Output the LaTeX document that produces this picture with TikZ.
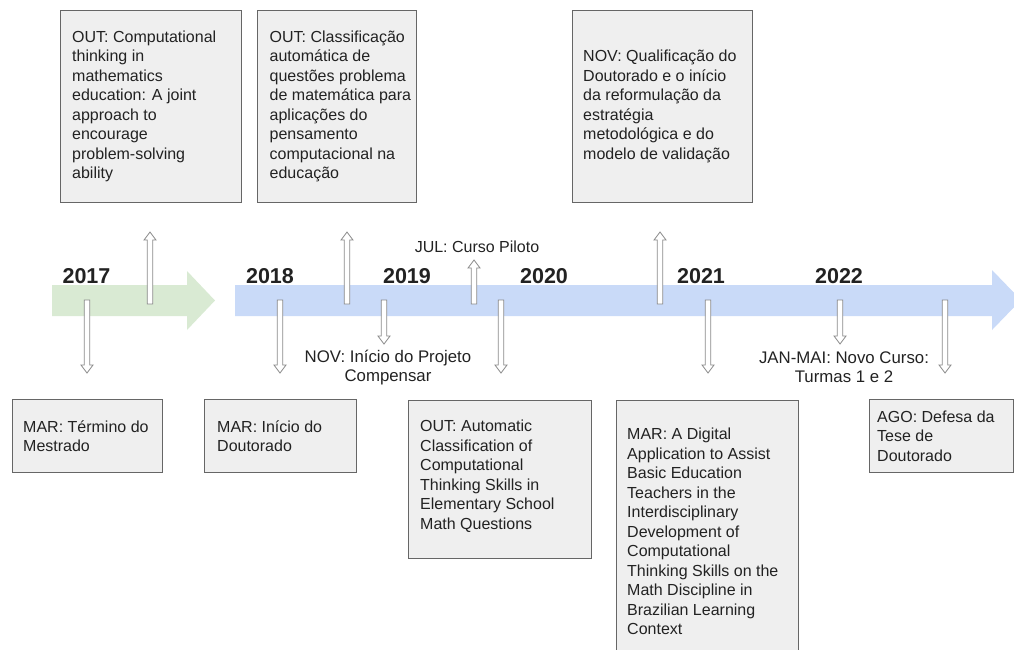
\documentclass[tikz,border=0pt]{standalone}
\usepackage{fontspec}
\setmainfont{Liberation Sans}
\definecolor{bandgreen}{HTML}{D9EAD3}
\definecolor{bandblue}{HTML}{C9DAF8}
\definecolor{boxfill}{HTML}{EFEFEF}
\definecolor{boxline}{HTML}{666666}
\definecolor{tickline}{HTML}{8A8A8A}
\definecolor{ink}{HTML}{222222}
\newcommand\evfont{\fontsize{16}{19.5}\selectfont}
\newcommand\lblfont{\fontsize{16.8}{19}\selectfont}
\newcommand\yrfont{\fontsize{21.5}{24}\selectfont\bfseries}
% hollow marker arrows: x, start y, tip y
\newcommand\markup[3]{%
  \draw[marker] (#1-2.75,#2) -- (#1-2.75,#3+8) -- (#1-6,#3+8) -- (#1,#3)
    -- (#1+6,#3+8) -- (#1+2.75,#3+8) -- (#1+2.75,#2) -- cycle;}
\newcommand\markdown[3]{%
  \draw[marker] (#1-2.75,#2) -- (#1-2.75,#3-8) -- (#1-6,#3-8) -- (#1,#3)
    -- (#1+6,#3-8) -- (#1+2.75,#3-8) -- (#1+2.75,#2) -- cycle;}
\begin{document}
\begin{tikzpicture}[x=1pt,y=-1pt,
  evbox/.style={draw=boxline, line width=0.9pt, fill=boxfill, anchor=north west,
    inner sep=0pt},
  evtext/.style={anchor=west, inner sep=0pt, align=left, font=\evfont, text=ink},
  lbl/.style={inner sep=0pt, align=center, font=\evfont, text=ink},
  year/.style={anchor=base, inner sep=0pt, font=\yrfont, text=ink},
  marker/.style={draw=tickline, line width=0.8pt, fill=white, line join=miter}]
\useasboundingbox (0,0) rectangle (1014,649);
\clip (0,0) rectangle (1014,649);

% timeline bands
\fill[bandgreen] (52,285) -- (187,285) -- (187,271) -- (215,300.5) -- (187,330)
  -- (187,316) -- (52,316) -- cycle;
\fill[bandblue] (235,285) -- (992,285) -- (992,270) -- (1021,300) -- (992,330)
  -- (992,316) -- (235,316) -- cycle;

% years
\node[year] (y2017) at (86.5,283) {2017};
\node[year] (y2018) at (270,283) {2018};
\node[year] (y2019) at (407,283) {2019};
\node[year] (y2020) at (544,283) {2020};
\node[year] (y2021) at (701,283) {2021};
\node[year] (y2022) at (839,283) {2022};

% markers above the band
\markup{150}{304}{232}
\markup{347}{304}{232}
\markup{474}{304}{260}
\markup{660}{304}{232}
% markers below the band
\markdown{87}{300}{373}
\markdown{280}{300}{373}
\markdown{384}{300}{344}
\markdown{501}{300}{373}
\markdown{708}{300}{373}
\markdown{840}{300}{344}
\markdown{945}{300}{373}

% short labels
\node[lbl, anchor=base] (jul) at (477,252) {JUL: Curso Piloto};
\node[lbl, font=\lblfont, anchor=north] (nov) at (388,350) {NOV: Início do Projeto\\Compensar};
\node[lbl, font=\lblfont, anchor=north] (jan) at (844,352) {JAN-MAI: Novo Curso:\\Turmas 1 e 2};

% boxes above
\node[evbox, minimum width=181pt, minimum height=192pt] (t1) at (60,10) {};
\node[evtext] at ([xshift=12pt]t1.west) {OUT: Computational\\thinking in\\mathematics\\education: A joint\\approach to\\encourage\\problem-solving\\ability};
\node[evbox, minimum width=159pt, minimum height=192pt] (t2) at (257,10) {};
\node[evtext] at ([xshift=12.5pt]t2.west) {OUT: Classificação\\automática de\\questões problema\\de matemática para\\aplicações do\\pensamento\\computacional na\\educação};
\node[evbox, minimum width=180pt, minimum height=192pt] (t3) at (572,10) {};
\node[evtext] at ([xshift=11pt]t3.west) {NOV: Qualificação do\\Doutorado e o início\\da reformulação da\\estratégia\\metodológica e do\\modelo de validação};

% boxes below
\node[evbox, minimum width=150pt, minimum height=73pt] (b1) at (12,399) {};
\node[evtext] at ([xshift=11pt]b1.west) {MAR: Término do\\Mestrado};
\node[evbox, minimum width=152pt, minimum height=73pt] (b2) at (204,399) {};
\node[evtext] at ([xshift=13pt]b2.west) {MAR: Início do\\Doutorado};
\node[evbox, minimum width=183pt, minimum height=158pt] (b3) at (408,400) {};
\node[evtext] at ([xshift=12pt,yshift=3pt]b3.west) {OUT: Automatic\\Classification of\\Computational\\Thinking Skills in\\Elementary School\\Math Questions};
\node[evbox, minimum width=182pt, minimum height=270pt] (b4) at (616,400) {};
\node[evtext] at ([xshift=11pt,yshift=4pt]b4.west) {MAR: A Digital\\Application to Assist\\Basic Education\\Teachers in the\\Interdisciplinary\\Development of\\Computational\\Thinking Skills on the\\Math Discipline in\\Brazilian Learning\\Context};
\node[evbox, minimum width=144pt, minimum height=73pt] (b5) at (869,399) {};
\node[evtext] at ([xshift=8pt]b5.west) {AGO: Defesa da\\Tese de\\Doutorado};
\end{tikzpicture}
\end{document}
